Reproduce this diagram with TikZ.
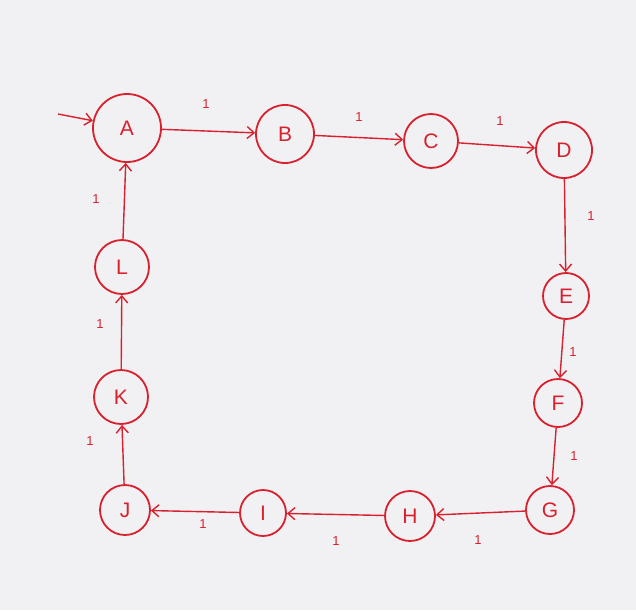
\documentclass[tikz,border=0pt]{standalone}
\usepackage{fontspec}
\setmainfont{Liberation Sans}
\usetikzlibrary{arrows.meta}
\definecolor{ink}{HTML}{D8202E}
\definecolor{paper}{HTML}{F1F1F3}
\begin{document}
\begin{tikzpicture}[x=1pt,y=-1pt,
  st/.style={circle,draw=ink,line width=1.8pt,text=ink,font=\fontsize{21}{24}\selectfont,inner sep=0pt},
  tr/.style={draw=ink,line width=1.4pt,-{Straight Barb[length=7pt,width=12pt]}},
  lbl/.style={text=ink,font=\fontsize{13}{15}\selectfont}]
\fill[paper] (0,0) rectangle (636,610);
\useasboundingbox (0,0) rectangle (636,610);
\node[st,minimum size=68pt] (A) at (127,128) {A};
\node[st,minimum size=58pt] (B) at (285,134) {B};
\node[st,minimum size=54pt] (C) at (431,141) {C};
\node[st,minimum size=56pt] (D) at (564,150) {D};
\node[st,minimum size=46pt] (E) at (566,296) {E};
\node[st,minimum size=48pt] (F) at (558,403) {F};
\node[st,minimum size=48pt] (G) at (550,510) {G};
\node[st,minimum size=50pt] (H) at (410,516) {H};
\node[st,minimum size=46pt] (I) at (263,513) {I};
\node[st,minimum size=50pt] (J) at (125,510) {J};
\node[st,minimum size=54pt] (K) at (121,397) {K};
\node[st,minimum size=54pt] (L) at (122,267) {L};
\coordinate (s) at (58,114);
\draw[tr] (s) -- (A.168);
\draw[tr] (A) -- (B);
\draw[tr] (B) -- (C);
\draw[tr] (C) -- (D);
\draw[tr] (D) -- (E);
\draw[tr] (E) -- (F);
\draw[tr] (F) -- (G);
\draw[tr] (G) -- (H);
\draw[tr] (H) -- (I);
\draw[tr] (I) -- (J);
\draw[tr] (J) -- (K);
\draw[tr] (K) -- (L);
\draw[tr] (L) -- (A);
\node[lbl] (l1) at (206,104) {1};
\node[lbl] (l2) at (359,117) {1};
\node[lbl] (l3) at (500,121) {1};
\node[lbl] (l4) at (591,216) {1};
\node[lbl] (l5) at (573,352) {1};
\node[lbl] (l6) at (574,456) {1};
\node[lbl] (l7) at (478,540) {1};
\node[lbl] (l8) at (336,541) {1};
\node[lbl] (l9) at (203,524) {1};
\node[lbl] (l10) at (90,441) {1};
\node[lbl] (l11) at (100,324) {1};
\node[lbl] (l12) at (96,199) {1};
\end{tikzpicture}
\end{document}
